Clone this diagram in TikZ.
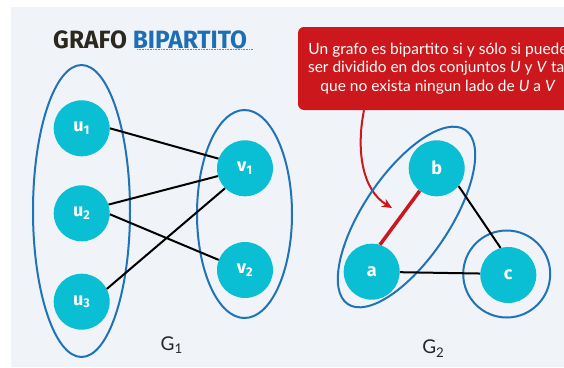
\documentclass[tikz,border=0pt]{standalone}
\usepackage{fontspec}
\setmainfont{Lato}
\newfontfamily\titlefont{Fira Sans}
\usetikzlibrary{arrows.meta}
\definecolor{bgc}{RGB}{240,244,248}
\definecolor{cyanc}{RGB}{10,190,212}
\definecolor{ringc}{RGB}{30,115,185}
\definecolor{redc}{RGB}{204,24,28}
\definecolor{titledark}{RGB}{45,40,30}
\definecolor{titleblue}{RGB}{30,110,180}
\begin{document}
\begin{tikzpicture}[x=1pt,y=-1pt,
  vert/.style={circle,fill=cyanc,minimum size=56pt,inner sep=0pt,text=white,
    font=\titlefont\bfseries\fontsize{18}{18}\selectfont},
  ring/.style={draw=ringc,line width=2pt},
  edge/.style={draw=black,line width=2pt},
  redge/.style={draw=redc,line width=3.5pt},
  glabel/.style={font=\fontsize{19}{19}\selectfont,text=black!85}]
\useasboundingbox (0,0) rectangle (564,367);
\fill[white] (0,0) rectangle (564,367);
\fill[bgc] (11,7) rectangle (564,367);

% title
\node[anchor=west,inner sep=0pt] (title) at (53,40)
  {\titlefont\bfseries\fontsize{25}{25}\selectfont\scalebox{0.98}[1]{\color{titledark}GRAFO \color{titleblue}BIPARTITO}};
\draw[red!70,densely dotted,line width=0.6pt] (137,49.5) -- (253,49.5);

% callout box
\node[fill=redc,rounded corners=6pt,minimum width=280pt,minimum height=83pt,
  align=center,text=white,font=\fontsize{15.5}{18.5}\selectfont] (box) at (438,68.5)
  {Un grafo es bipartito si y sólo si puede\\ser dividido en dos conjuntos \textit{U} y \textit{V} tal\\que no exista ningun lado de \textit{U} a \textit{V}};
\coordinate (tip) at (392,208);
\draw[redc,line width=2pt,-{Stealth[length=10pt,width=9pt]}]
  ([xshift=-74pt]box.south) .. controls (356,150) and (362,190) .. (tip);

% G1
\node[vert] (u1) at (81.7,128.3) {u\textsubscript{1}};
\node[vert] (u2) at (81.7,213.3) {u\textsubscript{2}};
\node[vert] (u3) at (81.7,301.7) {u\textsubscript{3}};
\node[vert] (v1) at (245,168.3) {v\textsubscript{1}};
\node[vert] (v2) at (245,270) {v\textsubscript{2}};
\draw[ring] (81.5,211) ellipse [x radius=48.5pt, y radius=146pt];
\draw[ring] (244.5,214) ellipse [x radius=47.5pt, y radius=104pt];
\draw[edge] (u1.0) -- (v1.160);
\draw[edge] (u2.18) -- (v1.196);
\draw[edge] (u2.-2) -- (v2.159);
\draw[edge] (u3.27) -- (v1.225);
\node[glabel] (g1) at (171.7,345) {G\textsubscript{1}};

% G2
\node[vert] (b) at (436.7,168.3) {b};
\node[vert] (a) at (371.7,271.7) {a};
\node[vert] (c) at (508.3,275) {c};
\draw[ring,rotate around={56:(406.5,217)}] (406.5,217) ellipse [x radius=105pt, y radius=43pt];
\draw[ring] (506.7,274) circle [radius=43.5pt];
\draw[redge] (a.73) -- (b.233);
\draw[edge] (a.-1) -- (c.177);
\draw[edge] (b.-39) -- (c.106);
\node[glabel] (g2) at (433.3,348.3) {G\textsubscript{2}};
\end{tikzpicture}
\end{document}
